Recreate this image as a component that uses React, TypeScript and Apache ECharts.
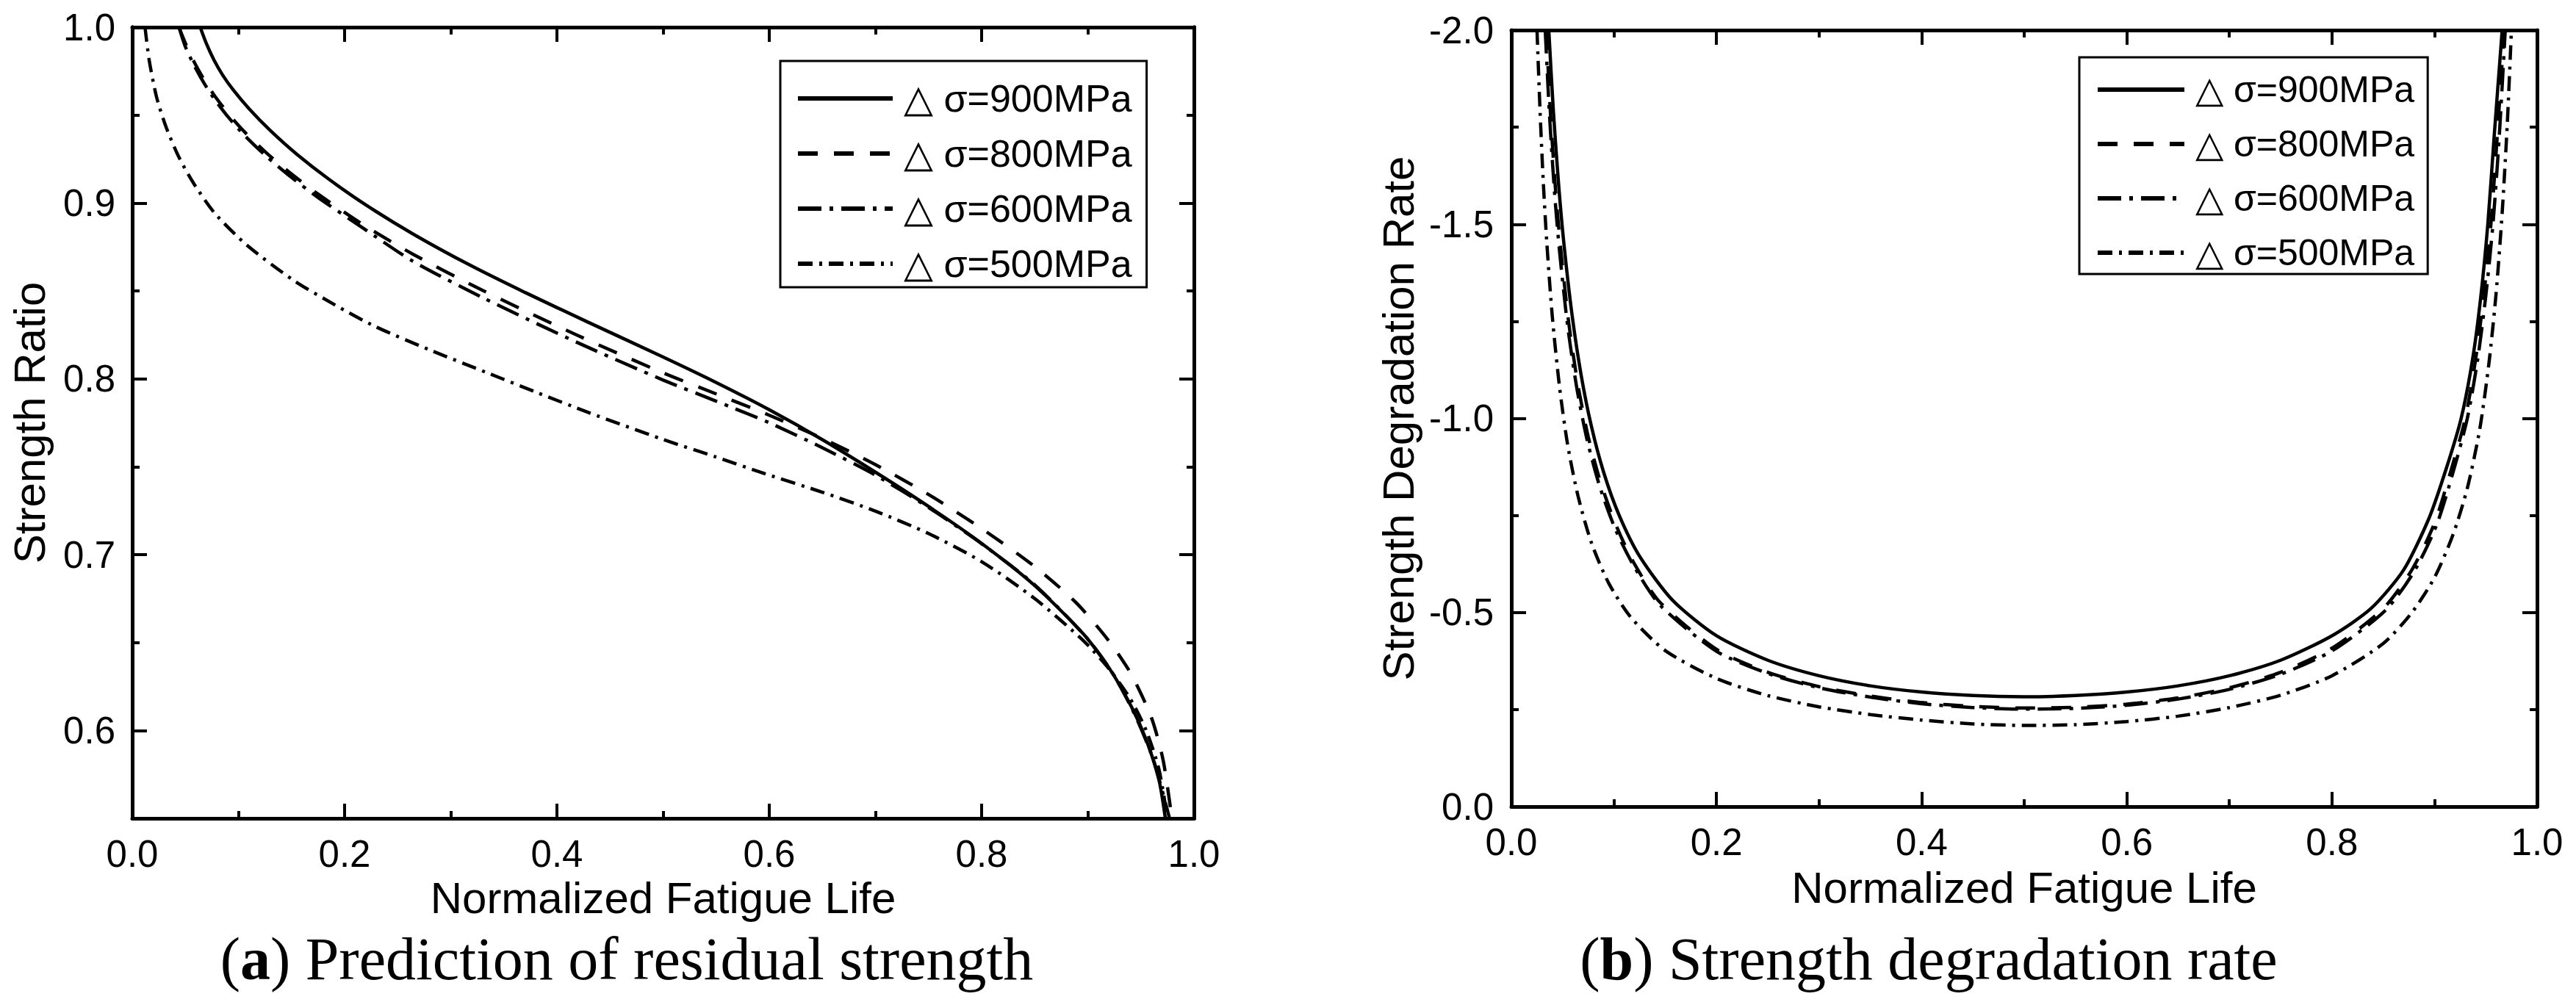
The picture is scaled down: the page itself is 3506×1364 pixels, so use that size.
import React, { useEffect, useRef } from 'react';
import * as echarts from 'echarts';

// (a) strength ratio vs normalized fatigue life
const ratio900: [number, number][] = [
  [0.064, 1.0], [0.07, 0.9904], [0.077, 0.9813], [0.085, 0.9729], [0.095, 0.9644], [0.11, 0.9536],
  [0.13, 0.9412], [0.155, 0.9277], [0.185, 0.9136], [0.221, 0.8985], [0.265, 0.8822], [0.317, 0.865],
  [0.37, 0.8491], [0.429, 0.8323], [0.5, 0.8124], [0.55, 0.7979], [0.6, 0.7824], [0.65, 0.7654],
  [0.7, 0.7469], [0.75, 0.7274], [0.8, 0.7064], [0.85, 0.6824], [0.896, 0.6548], [0.92, 0.6356],
  [0.941, 0.6136], [0.955, 0.5947], [0.967, 0.5719], [0.973, 0.5503],
];
const ratio800: [number, number][] = [
  [0.044, 1.0], [0.05, 0.991], [0.058, 0.9806], [0.068, 0.9698], [0.078, 0.9606], [0.092, 0.9497],
  [0.106, 0.9403], [0.126, 0.9287], [0.148, 0.9175], [0.175, 0.9051], [0.217, 0.8879], [0.264, 0.871],
  [0.33, 0.8503], [0.419, 0.8248], [0.5, 0.8034], [0.55, 0.7914], [0.6, 0.7793], [0.65, 0.7661],
  [0.7, 0.7512], [0.75, 0.7342], [0.802, 0.714], [0.85, 0.6932], [0.889, 0.6727], [0.92, 0.6508],
  [0.941, 0.6319], [0.96, 0.6072], [0.971, 0.583], [0.979, 0.551],
];
const ratio600: [number, number][] = [
  [0.044, 1.0], [0.05, 0.989], [0.058, 0.9786], [0.068, 0.9678], [0.078, 0.9586], [0.092, 0.9477],
  [0.106, 0.9383], [0.126, 0.9267], [0.148, 0.9155], [0.175, 0.9031], [0.217, 0.8859], [0.264, 0.867],
  [0.33, 0.8462], [0.419, 0.8207], [0.5, 0.7993], [0.55, 0.7873], [0.6, 0.775], [0.65, 0.7608],
  [0.7, 0.7452], [0.75, 0.7268], [0.8, 0.7062], [0.85, 0.6828], [0.9, 0.652], [0.925, 0.631],
  [0.945, 0.608], [0.962, 0.583], [0.977, 0.55],
];
const ratio500: [number, number][] = [
  [0.012, 1.0], [0.016, 0.981], [0.023, 0.96], [0.032, 0.943], [0.044, 0.926], [0.058, 0.911],
  [0.078, 0.894], [0.108, 0.876], [0.152, 0.856], [0.191, 0.842], [0.228, 0.83], [0.28, 0.8165],
  [0.334, 0.8035], [0.38, 0.7925], [0.429, 0.781], [0.5, 0.7655], [0.55, 0.7555], [0.596, 0.746],
  [0.65, 0.7355], [0.701, 0.7245], [0.75, 0.712], [0.8, 0.696], [0.85, 0.675], [0.896, 0.651],
  [0.92, 0.635], [0.94, 0.618], [0.955, 0.6], [0.967, 0.578], [0.975, 0.55],
];

// (b) strength degradation rate
const rate900: [number, number][] = [
  [0.0365, -2.0], [0.041, -1.79], [0.046, -1.605], [0.051, -1.456], [0.059, -1.27], [0.068, -1.112],
  [0.078, -0.98], [0.09, -0.861], [0.105, -0.751], [0.125, -0.645], [0.157, -0.532], [0.2, -0.44],
  [0.25, -0.377], [0.3, -0.337], [0.35, -0.311], [0.4, -0.295], [0.45, -0.286], [0.5, -0.283],
  [0.55, -0.286], [0.6, -0.295], [0.65, -0.311], [0.7, -0.337], [0.75, -0.377], [0.8, -0.44],
  [0.838, -0.51], [0.87, -0.61], [0.895, -0.745], [0.912, -0.875], [0.926, -1.0], [0.937, -1.15],
  [0.945, -1.31], [0.952, -1.5], [0.958, -1.72], [0.966, -2.0],
];
const rate800: [number, number][] = [
  [0.034, -2.0], [0.038, -1.79], [0.043, -1.59], [0.048, -1.44], [0.056, -1.245], [0.065, -1.085],
  [0.075, -0.952], [0.087, -0.835], [0.102, -0.725], [0.12, -0.625], [0.145, -0.526], [0.2, -0.405],
  [0.25, -0.346], [0.3, -0.309], [0.35, -0.285], [0.4, -0.268], [0.45, -0.258], [0.5, -0.254],
  [0.55, -0.256], [0.6, -0.264], [0.65, -0.28], [0.7, -0.306], [0.75, -0.346], [0.8, -0.408],
  [0.85, -0.51], [0.878, -0.61], [0.9, -0.73], [0.916, -0.865], [0.93, -1.0], [0.94, -1.15],
  [0.948, -1.315], [0.955, -1.5], [0.961, -1.72], [0.968, -2.0],
];
const rate600: [number, number][] = [
  [0.033, -2.0], [0.037, -1.79], [0.042, -1.585], [0.047, -1.43], [0.055, -1.235], [0.064, -1.075],
  [0.074, -0.943], [0.086, -0.826], [0.101, -0.717], [0.12, -0.617], [0.145, -0.519], [0.2, -0.4],
  [0.25, -0.343], [0.3, -0.306], [0.35, -0.282], [0.4, -0.265], [0.45, -0.255], [0.5, -0.251],
  [0.55, -0.253], [0.6, -0.261], [0.65, -0.277], [0.7, -0.302], [0.75, -0.341], [0.8, -0.401],
  [0.852, -0.505], [0.88, -0.605], [0.902, -0.725], [0.918, -0.86], [0.932, -1.0], [0.942, -1.15],
  [0.95, -1.315], [0.957, -1.5], [0.963, -1.72], [0.969, -2.0],
];
const rate500: [number, number][] = [
  [0.025, -2.0], [0.028, -1.79], [0.031, -1.615], [0.0345, -1.455], [0.04, -1.26], [0.047, -1.08],
  [0.055, -0.93], [0.065, -0.8], [0.078, -0.68], [0.095, -0.575], [0.117, -0.486], [0.15, -0.402],
  [0.2, -0.33], [0.25, -0.286], [0.3, -0.257], [0.35, -0.237], [0.4, -0.223], [0.45, -0.213],
  [0.5, -0.209], [0.55, -0.211], [0.6, -0.219], [0.65, -0.233], [0.7, -0.255], [0.75, -0.287],
  [0.8, -0.337], [0.85, -0.42], [0.878, -0.5], [0.9, -0.59], [0.918, -0.7], [0.932, -0.82],
  [0.944, -0.97], [0.953, -1.14], [0.96, -1.32], [0.966, -1.53], [0.971, -1.76], [0.975, -2.0],
];

const seriesNames = ['△ σ=900MPa', '△ σ=800MPa', '△ σ=600MPa', '△ σ=500MPa'];
const ratioMajor = [0.6, 0.7, 0.8, 0.9, 1.0];
const ratioMinor = [0.65, 0.75, 0.85, 0.95];

const SANS = "'Liberation Sans', Arial, sans-serif";
const SERIF = "'Liberation Serif', 'Times New Roman', serif";

// line dash styles: solid, dash, dash-dot, short dash-dot
const dashes: any[] = ['solid', [27, 22], [32, 11, 5, 11], [20, 9, 4, 9]];

const axisLine = { show: true, onZero: false, lineStyle: { color: '#000', width: 5 } };
const tick = { show: true, inside: true, length: 20, lineStyle: { color: '#000', width: 4 } };
const minor = { show: true, splitNumber: 2, length: 10, lineStyle: { color: '#000', width: 4 } };
const tickFont = { color: '#000', fontSize: 51, fontFamily: SANS };
const nameFont = { color: '#000', fontSize: 60, fontFamily: SANS };

const xPair = (grid: number, nameGap: number) => [
  {
    type: 'value', gridIndex: grid, position: 'bottom', min: 0, max: 1, interval: 0.2,
    name: 'Normalized Fatigue Life', nameLocation: 'middle', nameGap, nameTextStyle: nameFont,
    axisLine, axisTick: tick, minorTick: minor, splitLine: { show: false },
    axisLabel: { ...tickFont, margin: 23, formatter: (v: number) => v.toFixed(1) },
  },
  {
    type: 'value', gridIndex: grid, position: 'top', min: 0, max: 1, interval: 0.2,
    axisLine, axisTick: tick, minorTick: minor, splitLine: { show: false },
    axisLabel: { show: false },
  },
];

const ratioAxis = (position: string, values: number[], len: number, main: boolean) => ({
  type: 'value', gridIndex: 0, position, offset: 0, min: 0.55, max: 1.0,
  name: main ? 'Strength Ratio' : '', nameLocation: 'middle', nameGap: 110, nameTextStyle: nameFont,
  axisLine, splitLine: { show: false },
  axisTick: { ...tick, length: len, customValues: values },
  axisLabel: main
    ? { ...tickFont, margin: 23, customValues: values, formatter: (v: number) => v.toFixed(1) }
    : { show: false },
});

const lineSeries = (name: string, data: [number, number][], i: number, xi: number, yi: number) => ({
  type: 'line', name, data, xAxisIndex: xi, yAxisIndex: yi,
  symbol: 'none', smooth: 0.25, clip: true,
  lineStyle: { color: '#000', width: 4.5, type: dashes[i] },
  itemStyle: { color: '#000' },
});

const legendBox = (left: number, top: number, size: number, gap: number, pad: number[], w: number) => ({
  data: seriesNames, orient: 'vertical', left, top, selectedMode: false,
  itemWidth: w, itemHeight: size, itemGap: gap, padding: pad,
  borderColor: '#000', borderWidth: 3, backgroundColor: '#fff',
  itemStyle: { opacity: 0 }, lineStyle: { width: 6 },
  textStyle: { color: '#000', fontSize: size, lineHeight: size, fontFamily: SANS, padding: [0, 0, 0, 10] },
});

const App: React.FC = () => {
  const chartRef = useRef<HTMLDivElement>(null);

  useEffect(() => {
    document.body.style.margin = '0';
    if (!chartRef.current) return;
    const chart = echarts.init(chartRef.current, undefined, { renderer: 'svg' });

    const ratioData = [ratio900, ratio800, ratio600, ratio500];
    const rateData = [rate900, rate800, rate600, rate500];

    chart.setOption({
      animation: false,
      backgroundColor: '#fff',
      grid: [
        { left: 180, top: 37, width: 1445, height: 1077 },
        { left: 2057, top: 41, width: 1396, height: 1057 },
      ],
      xAxis: [...xPair(0, 74), ...xPair(1, 80)],
      yAxis: [
        ratioAxis('left', ratioMajor, 20, true),
        ratioAxis('left', ratioMinor, 10, false),
        ratioAxis('right', ratioMajor, 20, false),
        ratioAxis('right', ratioMinor, 10, false),
        {
          type: 'value', gridIndex: 1, position: 'left', min: -2, max: 0, interval: 0.5, inverse: true,
          name: 'Strength Degradation Rate', nameLocation: 'middle', nameGap: 124, nameTextStyle: nameFont,
          axisLine, axisTick: tick, minorTick: minor, splitLine: { show: false },
          axisLabel: { ...tickFont, margin: 24, formatter: (v: number) => v.toFixed(1) },
        },
        {
          type: 'value', gridIndex: 1, position: 'right', min: -2, max: 0, interval: 0.5, inverse: true,
          axisLine, axisTick: tick, minorTick: minor, splitLine: { show: false },
          axisLabel: { show: false },
        },
      ],
      legend: [
        legendBox(1062, 83, 52, 23, [25, 20, 6, 21], 129),
        legendBox(2830, 78, 50, 24, [19, 18, 4, 22], 118),
      ],
      series: [
        ...ratioData.map((d, i) => lineSeries(seriesNames[i], d, i, 0, 0)),
        ...rateData.map((d, i) => lineSeries(seriesNames[i], d, i, 2, 4)),
      ],
      graphic: [
        {
          type: 'text',
          style: {
            x: 853, y: 1305, align: 'center', verticalAlign: 'middle',
            text: '({b|a}) Prediction of residual strength',
            font: `82px ${SERIF}`, fill: '#000',
            rich: { b: { fontWeight: 'bold', fontSize: 82, fontFamily: SERIF, fill: '#000' } },
          },
        },
        {
          type: 'text',
          style: {
            x: 2625, y: 1305, align: 'center', verticalAlign: 'middle',
            text: '({b|b}) Strength degradation rate',
            font: `82px ${SERIF}`, fill: '#000',
            rich: { b: { fontWeight: 'bold', fontSize: 82, fontFamily: SERIF, fill: '#000' } },
          },
        },
      ],
    });

    return () => {
      chart.dispose();
    };
  }, []);

  return <div ref={chartRef} style={{ width: 3506, height: 1364 }} />;
};

export default App;
